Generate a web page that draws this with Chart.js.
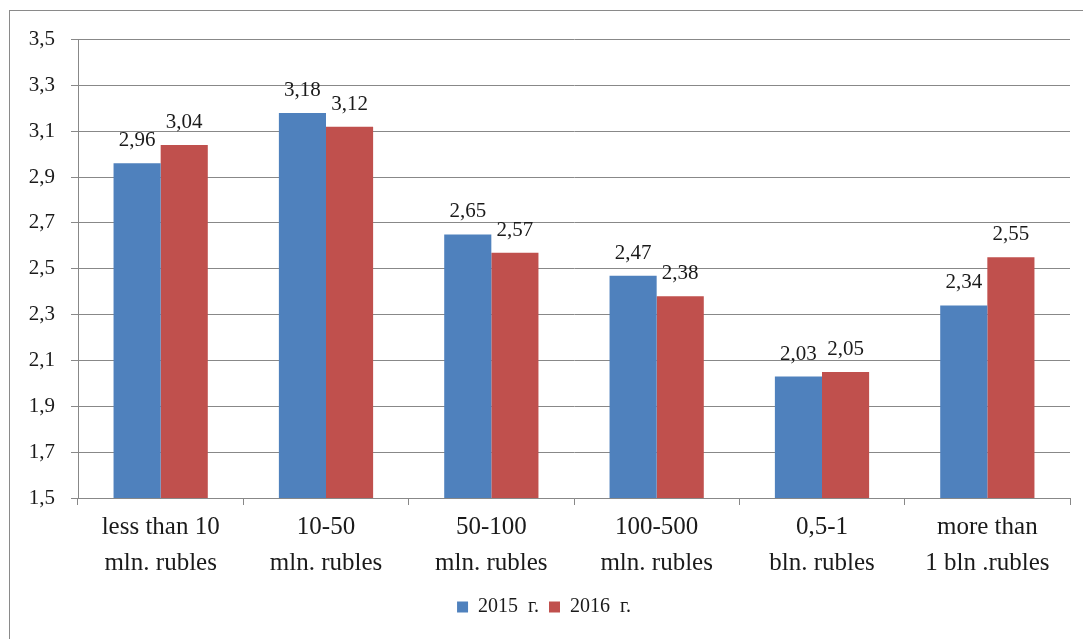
<!DOCTYPE html>
<html lang="en">
<head>
  <meta charset="UTF-8">
  <title>Bars by revenue group</title>
  <script src="https://cdn.jsdelivr.net/npm/chart.js"></script>
  <style>
    body { margin: 0; background: #fff; }
    .frame { position: absolute; left: 9px; top: 10px; width: 1090px; height: 640px; border-top: 1px solid #8a8a8a; border-left: 1px solid #8a8a8a; }
    .box { position: absolute; left: 10px; top: 11px; width: 1070px; height: 628px; }
  </style>
</head>
<body>
  <div class="frame"></div>
  <div class="box"><canvas id="chart"></canvas></div>

  <script>
    const categories = [
      ['less than 10', 'mln. rubles'],
      ['10-50', 'mln. rubles'],
      ['50-100', 'mln. rubles'],
      ['100-500', 'mln. rubles'],
      ['0,5-1', 'bln. rubles'],
      ['more than', '1 bln .rubles']
    ];
    const values2015 = [2.96, 3.18, 2.65, 2.47, 2.03, 2.34];
    const values2016 = [3.04, 3.12, 2.57, 2.38, 2.05, 2.55];
    const yMin = 1.5, yMax = 3.5, yStep = 0.2;

    const serif = '"Liberation Serif", "Times New Roman", serif';
    const comma = (v, d) => v.toFixed(d).replace('.', ',');

    // values above bars
    const valueLabels = {
      id: 'valueLabels',
      afterDatasetsDraw(chart) {
        const ctx = chart.ctx;
        ctx.save();
        ctx.font = '21px ' + serif;
        ctx.fillStyle = '#1a1a1a';
        ctx.textAlign = 'center';
        ctx.textBaseline = 'bottom';
        chart.data.datasets.forEach((ds, i) => {
          chart.getDatasetMeta(i).data.forEach((bar, j) => {
            ctx.fillText(comma(ds.data[j], 2), bar.x, bar.y - 12);
          });
        });
        ctx.restore();
      }
    };

    new Chart(document.getElementById('chart'), {
      type: 'bar',
      data: {
        labels: categories,
        datasets: [
          { label: '2015  г.', data: values2015, backgroundColor: '#4F81BD' },
          { label: '2016  г.', data: values2016, backgroundColor: '#C0504D' }
        ]
      },
      options: {
        responsive: true,
        maintainAspectRatio: false,
        animation: false,
        datasets: { bar: { barPercentage: 1, categoryPercentage: 0.57 } },
        layout: { padding: { left: 8, right: 10, top: 16, bottom: 12 } },
        plugins: {
          tooltip: { enabled: false },
          legend: {
            position: 'bottom',
            labels: {
              boxWidth: 11, boxHeight: 11, padding: 10,
              color: '#1a1a1a',
              font: { family: serif, size: 20 }
            }
          }
        },
        scales: {
          x: {
            afterFit: s => { s.height = 89; },
            grid: { drawOnChartArea: false, drawTicks: true, tickLength: 7, color: '#888', offset: true },
            border: { color: '#888', width: 1 },
            ticks: { color: '#1a1a1a', padding: 4, maxRotation: 0, font: { family: serif, size: 25, lineHeight: 1.45 } }
          },
          y: {
            min: yMin, max: yMax,
            afterFit: s => { s.width = 60; },
            grid: { color: '#888', lineWidth: 1, tickLength: 7 },
            border: { color: '#888', width: 1 },
            ticks: {
              stepSize: yStep, padding: 16, color: '#1a1a1a',
              font: { family: serif, size: 21 },
              callback: v => comma(v, 1)
            }
          }
        }
      },
      plugins: [valueLabels]
    });
  </script>
</body>
</html>
